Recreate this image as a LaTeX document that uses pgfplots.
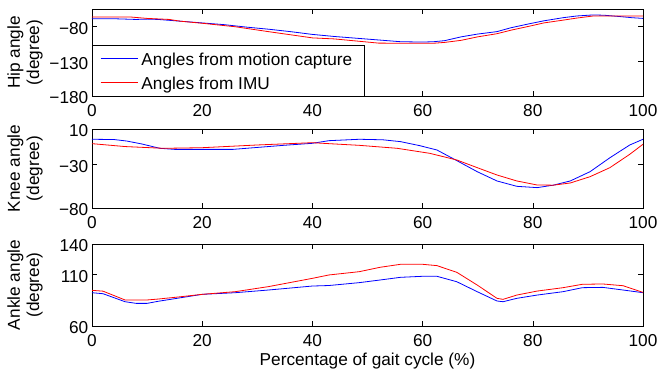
\documentclass[border=0pt]{standalone}
\usepackage{fontspec}
\setmainfont{Liberation Sans}
\usepackage{pgfplots}
\pgfplotsset{compat=1.18}
\definecolor{mblue}{RGB}{0,0,255}
\definecolor{mred}{RGB}{255,0,0}
\newcommand{\fs}{\fontsize{17.3}{19.5}\selectfont}
\pgfplotsset{gait/.style={
  scale only axis, width=551bp,
  xmin=0, xmax=100, xtick={0,20,40,60,80,100},
  tick align=inside, major tick length=5bp,
  axis line style={line width=0.7bp},
  every tick/.style={black, line width=0.6bp},
  tick label style={font=\fs},
  label style={font=\fs},
  /pgf/number format/assume math mode=true,
  xtick pos=both, ytick pos=both,
  ylabel style={at={([xshift=-49bp]axis description cs:0,0.5)}, anchor=south, align=center, inner sep=0pt},
  yticklabel style={inner xsep=0bp, inner ysep=0bp, xshift=-3.5bp, yshift=-2bp},
  xticklabel style={inner xsep=0bp, inner ysep=0bp, yshift=-8.5bp},
}}
\begin{document}
\begin{tikzpicture}
\begin{axis}[gait, name=hip, at={(0,0)}, anchor=north west, height=87bp,
  ymin=-180, ymax=-55, ytick={-180,-130,-80}, yticklabels={−180,−130,−80},
  ylabel={Hip angle\\(degree)},
  legend cell align=left,
  legend style={at={(axis description cs:0,0)}, anchor=south west, font=\fs,
    inner xsep=8bp, inner ysep=1.5bp, row sep=0pt,
    nodes={inner xsep=3.5bp, inner ysep=2.5bp, text height=16.5bp, text depth=2.5bp}},
  legend image code/.code={\draw[mark repeat=2,mark phase=2,#1] plot coordinates {(0bp,0bp) (18.5bp,0bp) (37bp,0bp)};}]
\addplot[color=mblue, line width=0.8bp] coordinates {(0,-69) (4,-69) (8,-70) (10,-69.5) (12,-70) (16,-72.5) (20,-75) (24,-77.5) (28,-81) (32,-84) (36,-87.5) (40,-91.5) (44,-94.5) (48,-97) (52,-99.5) (56,-102) (60,-102.5) (62,-102) (64,-100.5) (67,-95) (70,-91) (73.5,-87.5) (76,-82) (79.5,-76) (82,-72) (85.5,-67.5) (88,-65) (91,-63.5) (93,-64) (96,-66) (98,-67.5) (100,-68.5)};
\addlegendentry{Angles from motion capture}
\addplot[color=mred, line width=0.8bp] coordinates {(0,-66.5) (4,-66.5) (7,-66.5) (10,-68.5) (14,-70) (16,-72.5) (20,-75.5) (26,-80.5) (32,-87.5) (36,-92) (40,-96.5) (44,-98) (48,-101) (52,-104) (56,-104.2) (62,-104.2) (64,-103) (67,-100) (70,-95) (73.5,-90.5) (76,-85.5) (79.5,-79.5) (82,-75) (85.5,-71) (88,-68) (91,-65) (95,-65) (100,-65)};
\addlegendentry{Angles from IMU}
\end{axis}
\begin{axis}[gait, name=knee, at={(0,-120bp)}, anchor=north west, height=79bp,
  ymin=-80, ymax=10, ytick={-80,-30,10}, yticklabels={−80,−30,10},
  ylabel={Knee angle\\(degree)}]
\addplot[color=mblue, line width=0.8bp] coordinates {(0,-1.7) (4,-2) (6.3,-3.7) (9,-7) (12.3,-12) (15,-13.2) (20,-13.2) (25.6,-13.2) (30,-11) (35,-8.5) (40,-6.3) (43,-3.3) (48.5,-1.7) (52.8,-2.3) (56,-4.4) (59.5,-9) (62.6,-13.9) (66.2,-26) (69.9,-38.6) (73.5,-49.2) (77.1,-55.3) (80.8,-56.8) (83.7,-54) (86.8,-49.2) (90.4,-38.6) (94,-22.7) (97.6,-8.2) (100,-1.7)};
\addplot[color=mred, line width=0.8bp] coordinates {(0,-6.7) (6,-10) (13,-12) (20,-11.3) (30,-8.2) (40,-5.6) (43,-6.7) (48.5,-8.6) (55.4,-12) (61.3,-17.7) (66.2,-25.3) (69.9,-34) (73.5,-42.4) (77.1,-49.2) (80.8,-53.8) (83.7,-54) (86.8,-51.5) (90.4,-44.3) (94,-34) (97.6,-18.8) (100,-7.4)};
\end{axis}
\begin{axis}[gait, name=ankle, at={(0,-235bp)}, anchor=north west, height=82bp,
  ymin=60, ymax=140, ytick={60,110,140},
  ylabel={Ankle angle\\(degree)},
  xlabel={Percentage of gait cycle (\%)},
  xlabel style={at={(axis description cs:0.5,0)}, anchor=north, inner sep=0pt, yshift=-27bp}]
\addplot[color=mblue, line width=0.8bp] coordinates {(0,92.5) (2,91.5) (6,83.7) (8,82.1) (10,82.1) (12,84.1) (16,87.5) (20,90.9) (26,92.5) (32,95.1) (40,99) (43,99.5) (48.5,102.3) (52.3,104.9) (56,107.5) (60,108.5) (62.6,108.5) (66.2,103.2) (69.9,93.5) (73.5,84.4) (74.6,83.7) (77.1,87) (80.8,90.2) (85.5,93.5) (89,97.4) (92.7,97.7) (96.4,95.1) (100,92.5)};
\addplot[color=mred, line width=0.8bp] coordinates {(0,94.8) (2,94) (6,85.4) (10,85.4) (12,86.3) (16,88.5) (20,90.9) (26,93.5) (32,98.4) (40,106.5) (43,109.8) (48.5,113) (52.3,117.3) (56,120.2) (60,120.2) (62.6,118.9) (66.2,112.4) (69.9,100) (73.5,87) (74.6,86) (77.1,90.2) (80.8,94.1) (85.5,97.4) (89,100.7) (92.7,101) (96.4,99.3) (100,92.8)};
\end{axis}
\pgfresetboundingbox
\path[use as bounding box] (-92bp,9bp) rectangle (566bp,-363bp);
\end{tikzpicture}
\end{document}
